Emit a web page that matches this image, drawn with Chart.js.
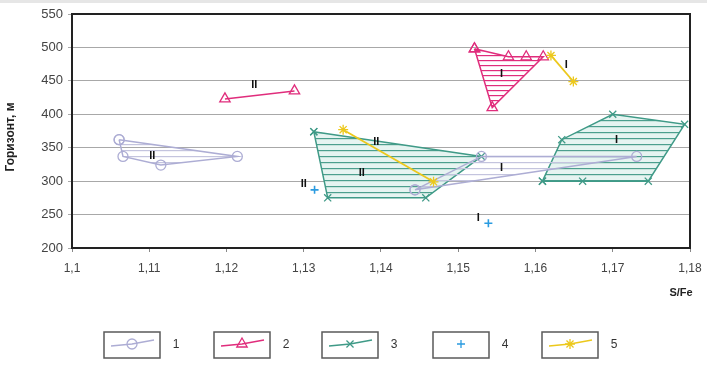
<!DOCTYPE html>
<html><head><meta charset="utf-8">
<script src="https://cdn.jsdelivr.net/npm/chart.js@4.4.1/dist/chart.umd.min.js"></script>
<style>html,body{margin:0;padding:0;background:#fff}#wrap{width:707px;height:365px;position:relative}</style>
</head><body><div id="wrap"><canvas id="c" width="707" height="365"></canvas></div>
<script>
// ---- tick values / labels ----
const xTickValues = [1.10, 1.11, 1.12, 1.13, 1.14, 1.15, 1.16, 1.17, 1.18];
const xTickLabels = ['1,1', '1,11', '1,12', '1,13', '1,14', '1,15', '1,16', '1,17', '1,18'];
const yTickValues = [200, 250, 300, 350, 400, 450, 500, 550];

// ---- series 1 (circles) ----
const s1II = [[1.1061, 362], [1.1066, 337], [1.1115, 324], [1.1214, 337], [1.1061, 362]];
const s1I = [[1.1444, 287], [1.1530, 337], [1.1731, 337], [1.1444, 287]];
// ---- series 2 (triangles) ----
const s2II = [[1.1198, 423], [1.1288, 435]];
const s2I = [[1.1521, 498], [1.1565, 486], [1.1588, 486], [1.1610, 486], [1.1544, 410], [1.1521, 498]];
// ---- series 3 (crosses) ----
const s3II = [[1.1313, 374], [1.1530, 337], [1.1458, 275], [1.1331, 275], [1.1313, 374]];
const s3IIinner = [[1.1390, 286]];
const s3I = [[1.1609, 300], [1.1634, 362], [1.1700, 400], [1.1793, 385], [1.1746, 300], [1.1661, 300], [1.1609, 300]];
const s3Iinner = [[1.1742, 374]];
// ---- series 4 (plus) ----
const s4 = [[1.1314, 287], [1.1539, 237]];
// ---- series 5 (stars) ----
const s5II = [[1.1351, 377], [1.1468, 299]];
const s5I = [[1.1620, 488], [1.1649, 449]];
// ---- zone labels ----
const zoneText = ['II', 'II', 'II', 'II', 'II', 'I', 'I', 'I', 'I', 'I'];
const zoneX = [1.1104, 1.1236, 1.1394, 1.1375, 1.1300, 1.1526, 1.1556, 1.1556, 1.1640, 1.1705];
const zoneY = [338, 444, 358, 312, 296, 245, 319, 461, 474, 362];
const legendLabels = ['1', '2', '3', '4', '5'];

const C1 = '#adadd4', C2 = '#e02d7c', C3 = '#3f9a87', C4 = '#2a9be0', C5 = '#ecc81c';

function hatch(line, bg, gap) {
  const c = document.createElement('canvas');
  c.width = 8; c.height = gap;
  const x = c.getContext('2d');
  if (bg) { x.fillStyle = bg; x.fillRect(0, 0, 8, gap); }
  x.fillStyle = line; x.fillRect(0, 0, 8, 1.2);
  return x.createPattern(c, 'repeat');
}
const toPts = a => a.map(p => ({x: p[0], y: p[1]}));

function ds(data, color, style, radius, fill, opts) {
  return Object.assign({
    data: toPts(data), showLine: true, borderColor: color, borderWidth: 1.5,
    pointStyle: style, pointRadius: radius, pointBorderColor: color, pointBorderWidth: 1.3,
    pointBackgroundColor: 'rgba(255,255,255,0)', backgroundColor: fill || 'rgba(0,0,0,0)',
    fill: fill ? 'shape' : false, tension: 0, clip: false
  }, opts || {});
}

const hat1 = hatch('#c4c4de', null, 6);
const hat2 = hatch(C2, null, 5);
const hat3 = hatch('#4c9f8e', '#e6f4f1', 6);

// first in array = drawn on top
const datasets = [
  ds(s5II, C5, 'star', 5, null, {borderWidth: 1.8}),
  ds(s5I, C5, 'star', 5, null, {borderWidth: 1.8}),
  ds(s4, C4, 'cross', 4, null, {showLine: false, pointBorderWidth: 1.6}),
  ds(s2II, C2, 'triangle', 6, null),
  ds(s2I, C2, 'triangle', 6, hat2),
  ds(s1II, C1, 'circle', 5, hat1),
  ds(s1I, C1, 'circle', 5, hat1),
  ds(s3II, C3, 'crossRot', 5, hat3),
  ds(s3IIinner, C3, 'crossRot', 5, null, {showLine: false}),
  ds(s3I, C3, 'crossRot', 5, hat3),
  ds(s3Iinner, C3, 'crossRot', 5, null, {showLine: false})
];

const legendItems = [
  {color: C1, style: 'circle', r: 5, line: true},
  {color: C2, style: 'triangle', r: 6, line: true},
  {color: C3, style: 'crossRot', r: 5, line: true},
  {color: C4, style: 'cross', r: 4, line: false},
  {color: C5, style: 'star', r: 5, line: true}
];
const legendBoxX = [104, 214, 322, 433, 542];

function marker(ctx, style, r, x, y) {
  if (Chart.helpers && Chart.helpers.drawPoint) {
    Chart.helpers.drawPoint(ctx, {pointStyle: style, radius: r, rotation: 0, borderWidth: ctx.lineWidth}, x, y);
    return;
  }
  ctx.beginPath(); ctx.arc(x, y, r, 0, Math.PI * 2); ctx.stroke();
}

const deco = {
  id: 'deco',
  beforeDraw(chart) {
    const ctx = chart.ctx;
    ctx.save();
    ctx.fillStyle = '#e6e6e6';
    ctx.fillRect(0, 0, 707, 3);
    ctx.restore();
  },
  beforeDatasetsDraw(chart) {
    const {ctx, chartArea: a} = chart;
    ctx.save();
    ctx.strokeStyle = '#222';
    ctx.lineWidth = 2;
    ctx.strokeRect(a.left, a.top, a.right - a.left, a.bottom - a.top);
    ctx.restore();
  },
  afterDraw(chart) {
    const {ctx} = chart;
    const xs = chart.scales.x, ys = chart.scales.y;
    ctx.save();
    ctx.fillStyle = '#111';
    ctx.font = 'bold 11px "Liberation Sans", Arial, sans-serif';
    ctx.textAlign = 'center'; ctx.textBaseline = 'middle';
    zoneText.forEach((t, i) => ctx.fillText(t, xs.getPixelForValue(zoneX[i]), ys.getPixelForValue(zoneY[i])));
    ctx.fillStyle = '#222';
    ctx.font = 'bold 11px "Liberation Sans", Arial, sans-serif';
    ctx.fillText('S/Fe', 681, 293);
    ctx.save();
    ctx.translate(11, 137);
    ctx.rotate(-Math.PI / 2);
    ctx.font = 'bold 12px "Liberation Sans", Arial, sans-serif';
    ctx.fillText('Горизонт, м', 0, 0);
    ctx.restore();
    const by = 332, bh = 26, bw = 56, cy = by + bh / 2;
    legendItems.forEach((it, i) => {
      const bx = legendBoxX[i];
      ctx.fillStyle = '#fff';
      ctx.fillRect(bx, by, bw, bh);
      ctx.strokeStyle = '#5a5a5a'; ctx.lineWidth = 1.5;
      ctx.strokeRect(bx, by, bw, bh);
      ctx.strokeStyle = it.color; ctx.lineWidth = 1.5;
      const mx = bx + 28, my = cy - 1;
      if (it.line) {
        ctx.beginPath();
        ctx.moveTo(bx + 7, cy + 1);
        ctx.lineTo(mx, my);
        ctx.lineTo(bx + 50, cy - 5);
        ctx.stroke();
      }
      ctx.fillStyle = 'rgba(255,255,255,0)';
      ctx.lineWidth = 1.3;
      marker(ctx, it.style, it.r, mx, my);
      ctx.fillStyle = '#333';
      ctx.font = '12px "Liberation Sans", Arial, sans-serif';
      ctx.textAlign = 'center';
      ctx.fillText(legendLabels[i], bx + bw + 16, cy);
    });
    ctx.restore();
  }
};

new Chart(document.getElementById('c'), {
  type: 'scatter',
  data: {datasets},
  plugins: [deco],
  options: {
    responsive: false, animation: false, devicePixelRatio: 1,
    layout: {padding: {left: 0, right: 17, top: 14, bottom: 0}},
    plugins: {legend: {display: false}, tooltip: {enabled: false}},
    scales: {
      x: {
        type: 'linear', min: 1.10, max: 1.18,
        afterBuildTicks: s => { s.ticks = xTickValues.map(v => ({value: v})); },
        afterFit: s => { s.height = 117; s.paddingRight = 0; s.paddingLeft = 0; },
        ticks: {callback: (v, i) => xTickLabels[i], color: '#444', padding: 9,
          font: {size: 12, family: '"Liberation Sans", Arial, sans-serif'}, maxRotation: 0, autoSkip: false},
        grid: {drawOnChartArea: false, tickLength: 4, color: '#888'},
        border: {display: false}
      },
      y: {
        min: 200, max: 550,
        afterBuildTicks: s => { s.ticks = yTickValues.map(v => ({value: v})); },
        afterFit: s => { s.width = 72; },
        ticks: {color: '#444', padding: 5,
          font: {size: 13, family: '"Liberation Sans", Arial, sans-serif'}},
        grid: {color: '#a8a8a8', lineWidth: 1, tickLength: 4},
        border: {display: false}
      }
    }
  }
});
</script></body></html>
